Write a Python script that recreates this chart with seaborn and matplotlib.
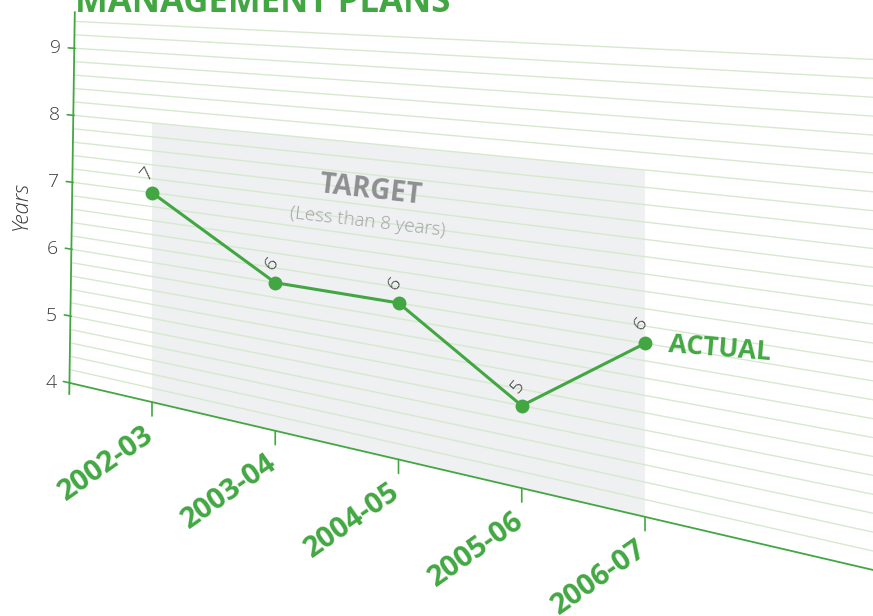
import numpy as np
import pandas as pd
import matplotlib
matplotlib.use("Agg")
import matplotlib.pyplot as plt
from matplotlib.transforms import Transform, Affine2D
import seaborn as sns

# ---------------- data ----------------
years = ["2002-03", "2003-04", "2004-05", "2005-06", "2006-07"]
actual = [7, 6, 6, 5, 6]
target_low = 4
target_high = 8
y_ticks = [4, 5, 6, 7, 8, 9]
title = "MANAGEMENT PLANS"

GREEN = "#42a742"
GRID = "#d6e9cf"
BAND = "#eef0f1"
DARK = "#3c3c3c"
GRAYTXT = "#8d8f91"

W, H = 873, 616

sns.set_theme(style="white")
plt.rcParams["font.family"] = ["Open Sans", "DejaVu Sans"]


class Perspective(Transform):
    """(category index, value) -> pixel (y down), with a receding plane."""
    input_dims = 2
    output_dims = 2
    is_separable = False
    has_inverse = True

    def __init__(self, x0, sx, pref, b0, bs, s0, ss, vb):
        super().__init__()
        self.p = (x0, sx, pref, b0, bs, s0, ss, vb)

    def transform_non_affine(self, values):
        x0, sx, pref, b0, bs, s0, ss, vb = self.p
        v = np.asarray(values, dtype=float).reshape(-1, 2)
        px = x0 + sx * v[:, 0]
        d = px - pref
        py = (b0 + bs * d) - (s0 + ss * d) * (v[:, 1] - vb)
        return np.column_stack([px, py])

    def inverted(self):
        return PerspectiveInv(self.p)


class PerspectiveInv(Transform):
    input_dims = 2
    output_dims = 2
    is_separable = False
    has_inverse = True

    def __init__(self, p):
        super().__init__()
        self.p = p

    def transform_non_affine(self, values):
        x0, sx, pref, b0, bs, s0, ss, vb = self.p
        v = np.asarray(values, dtype=float).reshape(-1, 2)
        px, py = v[:, 0], v[:, 1]
        d = px - pref
        x = (px - x0) / sx
        val = vb + ((b0 + bs * d) - py) / (s0 + ss * d)
        return np.column_stack([x, val])

    def inverted(self):
        return Perspective(*self.p)


fig = plt.figure(figsize=(W / 100, H / 100), dpi=100)
ax = fig.add_axes([0, 0, 1, 1])
ax.set_axis_off()

persp = Perspective(152.0, 123.25, 70.0, 383.0, 0.2328, 67.0, 0.0343, 4.0)
T = persp + Affine2D().scale(1 / W, -1 / H).translate(0, 1) + fig.transFigure

x_left = (70 - 152) / 123.25
x_right = (W + 5 - 152) / 123.25
n = len(years)
idx = np.arange(n)

# target band
band_x = [0, n - 1, n - 1, 0]
band_y = [target_low, target_low, target_high, target_high]
ax.fill(band_x, band_y, color=BAND, transform=T, zorder=0, lw=0)

# gridlines every 0.2 year
for g in np.arange(4.2, 9.41, 0.2):
    xs = x_left + (g - 3.82) / (9.55 - 3.82) * 0.045
    ax.plot([xs, x_right], [g, g], color=GRID, lw=1.0, transform=T, zorder=1)

# axes
ax.plot([x_left - 0.006, x_left + 0.039], [3.82, 9.55], color=GREEN, lw=1.3,
        transform=T, zorder=2, solid_capstyle="butt")
ax.plot([x_left, x_right], [4, 4], color=GREEN, lw=1.3, transform=T, zorder=2)

# y ticks + labels
for t in y_ticks:
    xs = x_left + (t - 3.82) / (9.55 - 3.82) * 0.045
    ax.plot([xs - 0.055, xs], [t, t], color=GREEN, lw=1.2, transform=T, zorder=2)
    ax.annotate(str(t), xy=(xs, t), xycoords=T, xytext=(-10, 0),
                textcoords="offset points", ha="right", va="center",
                fontsize=14, color=DARK, fontweight="light")

ax.annotate("Years", xy=(21 / W, 1 - 206 / H), xycoords="figure fraction",
            rotation=90, ha="center", va="center", fontsize=16,
            style="italic", color=DARK, fontweight="light")

# x ticks + labels
for i, lab in enumerate(years):
    ax.annotate("", xy=(i, 4), xycoords=T, xytext=(0, -10),
                textcoords="offset points",
                arrowprops=dict(arrowstyle="-", color=GREEN, lw=1.2,
                                shrinkA=0, shrinkB=0))
    ax.annotate(lab, xy=(i, 4), xycoords=T, xytext=(-7, -13),
                textcoords="offset points", rotation=35,
                ha="right", va="top", rotation_mode="anchor",
                fontsize=21, fontweight="bold", color=GREEN)

# data line
df = pd.DataFrame({"idx": idx, "actual": actual, "year": years})
sns.lineplot(data=df, x="idx", y="actual", ax=ax, color=GREEN, lw=2.2,
             marker="o", markersize=10, markeredgewidth=0, errorbar=None,
             sort=False, legend=False, transform=T, zorder=4, clip_on=False)
ax.set_axis_off()

for i, v in enumerate(actual):
    ax.annotate(str(v), xy=(i, v), xycoords=T, xytext=(-3, 14),
                textcoords="offset points", rotation=50, ha="center",
                va="center", fontsize=14, color=DARK, fontweight="light",
                zorder=5)

# labels in the plane
ax.text(1.777, 7.40, "TARGET", transform=T, rotation=-6.5, ha="center",
        va="center", fontsize=20, fontweight="bold", color=GRAYTXT, zorder=5)
ax.text(1.753, 6.98, "(Less than 8 years)", transform=T, rotation=-6.5,
        ha="center", va="center", fontsize=13.5, color="#a0a2a4",
        fontweight="light", zorder=5)
ax.annotate("ACTUAL", xy=(n - 1, actual[-1]), xycoords=T, xytext=(16, -4),
            textcoords="offset points", rotation=-4.5, ha="left", va="center",
            fontsize=19, fontweight="bold", color=GREEN, zorder=5)

fig.text(75 / W, 1 - 12 / H, title, ha="left", va="baseline", fontsize=25,
         fontweight="bold", color=GREEN)

fig.savefig("out.png", dpi=100)
